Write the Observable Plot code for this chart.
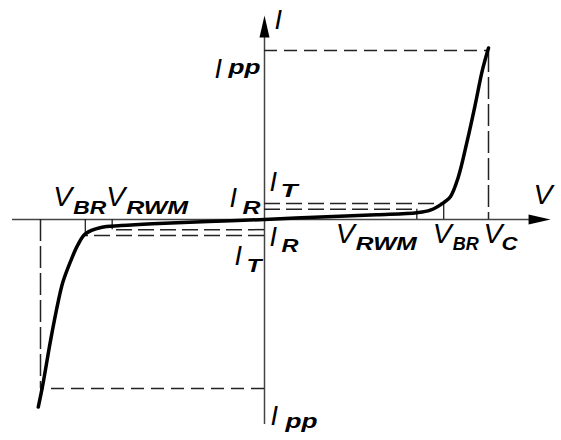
<!DOCTYPE html>
<html><head><meta charset="utf-8">
<script src="https://cdn.jsdelivr.net/npm/d3@7"></script>
<script src="https://cdn.jsdelivr.net/npm/@observablehq/plot@0.6"></script>
<style>body{margin:0;background:#fff}</style>
</head><body><div id="chart"></div>
<script>
// Characteristic values (arbitrary units)
const V_RWM = 6.8, V_BR = 8.0, V_C = 10.0;
const I_R = 0.6, I_T = 0.95, I_PP = 10.0;
const axisV = [-11.25, 12.77];
const axisI = [-12.13, 12.07];
// I-V curve
const curveV = [-10.1, -9.9, -9.55, -9.2, -9.0, -8.65, -8.35, -8.0, -7.3, -6.4, -5.0, -2.5, 0, 2.5, 5.0, 6.8, 7.4, 8.0, 8.3, 8.65, 9.05, 9.4, 9.73, 10.0];
const curveI = [-11.1, -9.8, -7.15, -4.8, -3.7, -2.45, -1.55, -0.85, -0.47, -0.36, -0.25, -0.12, 0, 0.15, 0.28, 0.4, 0.55, 1.0, 1.35, 2.5, 4.65, 6.75, 8.85, 10.15];
// Labels
const labelMain = ["I", "I", "V", "I", "I", "I", "I", "V", "V", "V", "V", "V", "I"];
const labelSub  = ["", "pp", "", "T", "R", "R", "T", "RWM", "BR", "C", "BR", "RWM", "pp"];
const labelAnchorV = [0, 0, axisV[1], 0, 0, 0, 0, V_RWM, V_BR, V_C, -V_BR, -V_RWM, 0];
const labelAnchorI = [axisI[1], I_PP, 0, I_T, 0, 0, -I_T, 0, 0, 0, 0, 0, -I_PP];

// Layout (pixel offsets from anchors, widths)
const mainOffset = [[10,13],[-50,27],[-17,-16],[5,-12],[-35,-13],[5,26],[-30,29],[-81,23],[-11,23],[-5,23],[-32,-14],[-6,-14],[6,36]];
const subOffset  = [null,[-36,23],null,[16,-6],[-22,-6],[17,32],[-18,36],[-61,30],[9,30],[13,30],[-12,-6],[14,-6],[21,39]];
const subWidth   = [0,32,0,17,18,17,15,61,26,16,33,62,32];
const mainWidth  = labelMain.map(m => m === "V" ? 19 : 0);

const FONT = "Liberation Sans, Arial, Helvetica, sans-serif";
const curve = curveV.map((v, k) => ({v, i: curveI[k]}));

const arrowHead = {
  draw(ctx) { ctx.moveTo(0, 0); ctx.lineTo(-5, 22); ctx.lineTo(5, 22); ctx.closePath(); }
};

const dashStyle = {stroke: "#222", strokeWidth: 1.5};
const marks = [
  // axes
  Plot.ruleX([0], {y1: axisI[0], y2: axisI[1] - 1, stroke: "#444", strokeWidth: 1.5}),
  Plot.ruleY([0], {x1: axisV[0], x2: axisV[1] - 0.5, stroke: "#444", strokeWidth: 1.5}),
  Plot.dot([{v: 0, i: axisI[1]}], {x: "v", y: "i", symbol: arrowHead, fill: "#000", stroke: null, r: 5}),
  Plot.dot([{v: axisV[1], i: 0}], {x: "v", y: "i", symbol: arrowHead, fill: "#000", stroke: null, r: 5, rotate: 90}),
  // dashed guides
  Plot.ruleY([I_PP], {x1: 0, x2: V_C, strokeDasharray: "13,7", ...dashStyle}),
  Plot.ruleX([V_C], {y1: I_PP, y2: 0, strokeDasharray: "22,5", ...dashStyle}),
  Plot.ruleY([-I_PP], {x1: 0, x2: -V_C, strokeDasharray: "13,7", ...dashStyle}),
  Plot.ruleX([-V_C], {y1: 0, y2: -I_PP, strokeDasharray: "22,5", ...dashStyle}),
  Plot.ruleY([I_T], {x1: 0, x2: V_BR, strokeDasharray: "16,6", ...dashStyle}),
  Plot.ruleY([I_R], {x1: 0, x2: V_RWM, strokeDasharray: "16,6", ...dashStyle}),
  Plot.ruleY([-I_R], {x1: 0, x2: -V_RWM, strokeDasharray: "16,6", ...dashStyle}),
  Plot.ruleY([-I_T], {x1: 0, x2: -V_BR, strokeDasharray: "16,6", ...dashStyle}),
  // solid ticks
  Plot.ruleX([V_RWM], {y1: 0, y2: I_R, stroke: "#222", strokeWidth: 1.3}),
  Plot.ruleX([V_BR], {y1: 0, y2: I_T, stroke: "#222", strokeWidth: 1.3}),
  Plot.ruleX([-V_RWM], {y1: 0, y2: -I_R, stroke: "#222", strokeWidth: 1.3}),
  Plot.ruleX([-V_BR], {y1: 0, y2: -I_T, stroke: "#222", strokeWidth: 1.3}),
  // curve
  Plot.line(curve, {x: "v", y: "i", stroke: "#000", strokeWidth: 3.5, curve: "catmull-rom"})
];

const textPieces = [];
labelMain.forEach((m, k) => {
  const pt = [{v: labelAnchorV[k], i: labelAnchorI[k]}];
  marks.push(Plot.text(pt, {x: "v", y: "i", text: () => m, textAnchor: "start", lineAnchor: "bottom",
    dx: mainOffset[k][0], dy: mainOffset[k][1], fontSize: 27, fontStyle: "italic", fontFamily: FONT, fill: "#000"}));
  textPieces.push(mainWidth[k]);
  if (labelSub[k]) {
    marks.push(Plot.text(pt, {x: "v", y: "i", text: () => labelSub[k], textAnchor: "start", lineAnchor: "bottom",
      dx: subOffset[k][0], dy: subOffset[k][1], fontSize: labelSub[k] === "pp" ? 20 : 18, fontWeight: "bold",
      fontStyle: "italic", fontFamily: FONT, fill: "#000"}));
    textPieces.push(subWidth[k]);
  }
});

const svg = Plot.plot({
  width: 561, height: 440, margin: 0,
  x: {domain: [-264 / 22.4, 297 / 22.4], axis: null},
  y: {domain: [-221 / 16.9, 219 / 16.9], axis: null},
  style: {background: "#fff", overflow: "visible"},
  marks
});
d3.select(svg).selectAll('g[aria-label="text"] text').each(function(d, k) {
  if (textPieces[k]) d3.select(this).attr("textLength", textPieces[k]).attr("lengthAdjust", "spacingAndGlyphs");
});
document.getElementById("chart").appendChild(svg);
</script>
</body></html>
